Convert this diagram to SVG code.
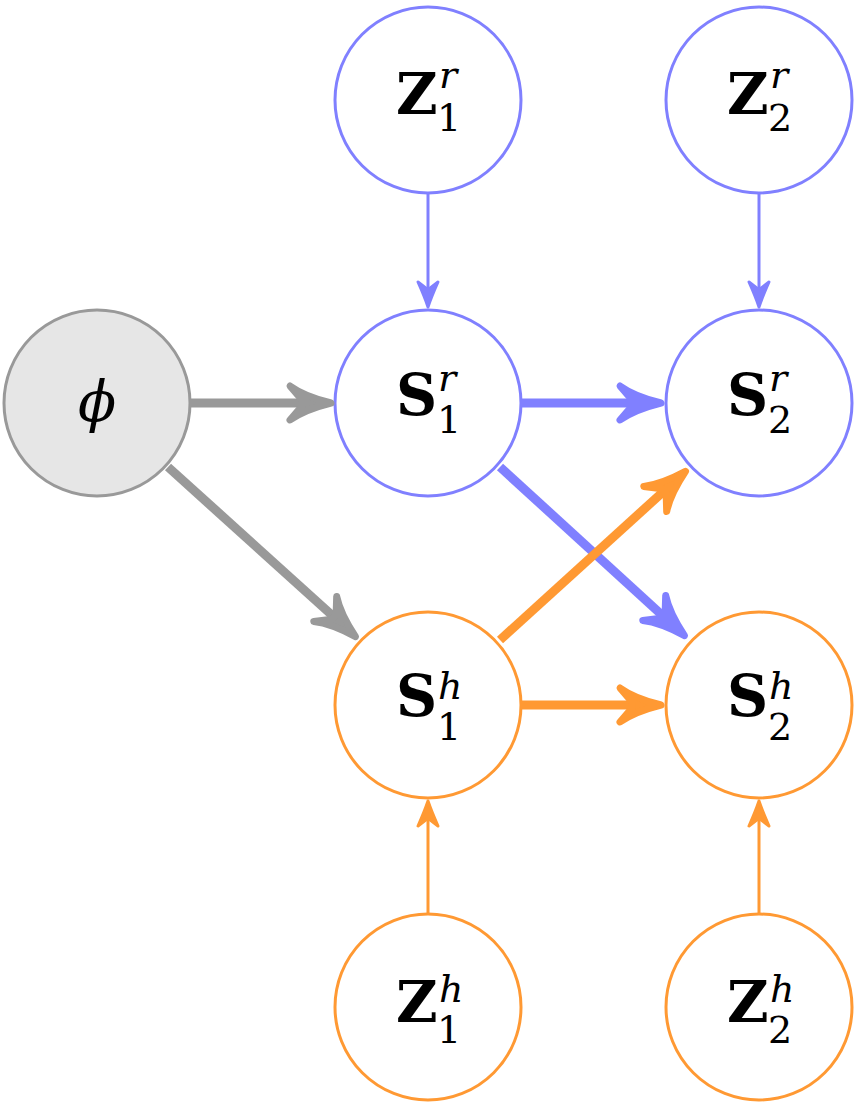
<svg xmlns="http://www.w3.org/2000/svg" width="856" height="1105" viewBox="0 0 856 1105">
<style>
.nb{fill:#fff;stroke:#8080FF;stroke-width:3}
.no{fill:#fff;stroke:#FF9933;stroke-width:3}
.ng{fill:#E6E6E6;stroke:#999999;stroke-width:3}
.m{font-family:"DejaVu Serif",serif;font-weight:bold;font-size:57px;fill:#000}
.sup{font-family:"DejaVu Serif",serif;font-style:italic;font-size:38px;fill:#000}
.sub{font-family:"DejaVu Serif",serif;font-size:38px;fill:#000}
.phi{font-family:"DejaVu Serif",serif;font-style:italic;font-size:56px;fill:#000}
.tb{stroke:#8080FF;stroke-width:9;fill:none}
.to{stroke:#FF9933;stroke-width:9;fill:none}
.tg{stroke:#999999;stroke-width:9;fill:none}
.hb{stroke:#8080FF;stroke-width:3;fill:none}
.ho{stroke:#FF9933;stroke-width:3;fill:none}
</style>
<defs>
<path id="big" d="M-2,0 C-14,-3 -32,-9 -43,-17 L-31,-3 L-31,3 L-43,17 C-32,9 -14,3 -2,0 Z" stroke-width="7" stroke-linejoin="round"/>
<path id="small" d="M-1,0 C-7,-2 -17,-6 -26,-10 L-19,-1 L-19,1 L-26,10 C-17,6 -7,2 -1,0 Z" stroke-width="3" stroke-linejoin="round"/>
</defs>
<g id="phi"><circle class="ng" cx="97" cy="403" r="93"/><text class="phi" x="97" y="421" text-anchor="middle">ϕ</text></g>
<g id="Z1r"><circle class="nb" cx="428" cy="100" r="93"/><text class="m" x="396" y="114">Z</text><text class="sup" x="439" y="88">r</text><text class="sub" x="437" y="131">1</text></g>
<g id="Z2r"><circle class="nb" cx="759" cy="100" r="93"/><text class="m" x="727" y="114">Z</text><text class="sup" x="770" y="88">r</text><text class="sub" x="768" y="131">2</text></g>
<g id="S1r"><circle class="nb" cx="428" cy="403" r="93"/><text class="m" x="396" y="415">S</text><text class="sup" x="438" y="391">r</text><text class="sub" x="437" y="433">1</text></g>
<g id="S2r"><circle class="nb" cx="759" cy="403" r="93"/><text class="m" x="727" y="415">S</text><text class="sup" x="769" y="391">r</text><text class="sub" x="768" y="433">2</text></g>
<g id="S1h"><circle class="no" cx="428" cy="705" r="93"/><text class="m" x="396" y="716">S</text><text class="sup" x="438" y="699">h</text><text class="sub" x="437" y="740">1</text></g>
<g id="S2h"><circle class="no" cx="759" cy="705" r="93"/><text class="m" x="727" y="716">S</text><text class="sup" x="769" y="699">h</text><text class="sub" x="768" y="740">2</text></g>
<g id="Z1h"><circle class="no" cx="428" cy="1007" r="93"/><text class="m" x="396" y="1022">Z</text><text class="sup" x="439" y="1002">h</text><text class="sub" x="437" y="1043">1</text></g>
<g id="Z2h"><circle class="no" cx="759" cy="1007" r="93"/><text class="m" x="727" y="1022">Z</text><text class="sup" x="770" y="1002">h</text><text class="sub" x="768" y="1043">2</text></g>
<g id="connectors">
<line class="tg" x1="191" y1="403" x2="303" y2="403"/>
<use href="#big" fill="#999999" stroke="#999999" transform="translate(333,403)"/>
<line class="tg" x1="168" y1="467" x2="334" y2="617"/>
<use href="#big" fill="#999999" stroke="#999999" transform="translate(357,638) rotate(42.37)"/>
<line class="tb" x1="522" y1="403" x2="633" y2="403"/>
<use href="#big" fill="#8080FF" stroke="#8080FF" transform="translate(663,403)"/>
<line class="tb" x1="500" y1="467" x2="663" y2="616"/>
<use href="#big" fill="#8080FF" stroke="#8080FF" transform="translate(686,637) rotate(42.37)"/>
<line class="to" x1="500" y1="640" x2="664" y2="491"/>
<use href="#big" fill="#FF9933" stroke="#FF9933" transform="translate(687,470) rotate(-42.37)"/>
<line class="to" x1="522" y1="705" x2="633" y2="705"/>
<use href="#big" fill="#FF9933" stroke="#FF9933" transform="translate(663,705)"/>
<line class="hb" x1="428" y1="194" x2="428" y2="290"/>
<use href="#small" fill="#8080FF" stroke="#8080FF" transform="translate(428,308) rotate(90)"/>
<line class="hb" x1="759" y1="194" x2="759" y2="290"/>
<use href="#small" fill="#8080FF" stroke="#8080FF" transform="translate(759,308) rotate(90)"/>
<line class="ho" x1="428" y1="913" x2="428" y2="818"/>
<use href="#small" fill="#FF9933" stroke="#FF9933" transform="translate(428,800) rotate(-90)"/>
<line class="ho" x1="759" y1="913" x2="759" y2="818"/>
<use href="#small" fill="#FF9933" stroke="#FF9933" transform="translate(759,800) rotate(-90)"/>
</g>
</svg>
